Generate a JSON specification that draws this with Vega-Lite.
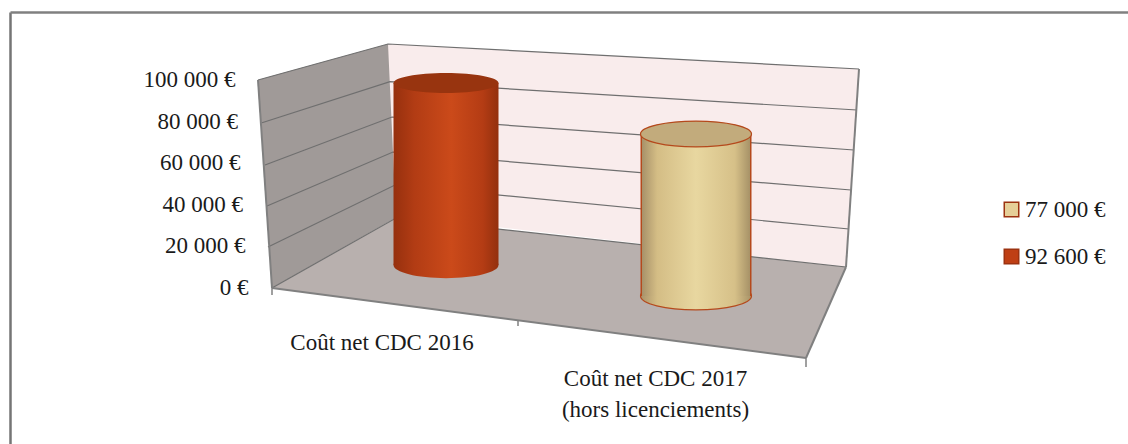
{
"$schema":"https://vega.github.io/schema/vega-lite/v6.json",
"width":1118,"height":432,
"padding":{"left":10,"top":12,"right":0,"bottom":0},
"autosize":"none",
"background":"#ffffff",
"view":{"stroke":null},
"config":{"font":"Liberation Serif"},
"datasets":{
"frame":[
{"part":"side","pos":0.248,"val":100000,"val2":100000},
{"part":"side","pos":0.304,"val":101884,"val2":-483},
{"part":"side","pos":0.768,"val":117391,"val2":31300},
{"part":"side","pos":0.8,"val":33333,"val2":33333},
{"part":"back","pos":0.768,"val":117391,"val2":35000},
{"part":"back","pos":2.6,"val":105652,"val2":9662},
{"part":"back","pos":2.652,"val":105314,"val2":105314},
{"part":"floor","pos":0.304,"val":-483,"val2":-483},
{"part":"floor","pos":0.8,"val":33333,"val2":-8357},
{"part":"floor","pos":2.44,"val":11739,"val2":-34300},
{"part":"floor","pos":2.6,"val":9662,"val2":9662}
],
"grid":[
{"level":100000,"pos":0.248,"val":100000},{"level":100000,"pos":0.768,"val":117391},{"level":100000,"pos":2.652,"val":105314},
{"level":80000,"pos":0.264,"val":79372},{"level":80000,"pos":0.776,"val":99178},{"level":80000,"pos":2.644,"val":85507},
{"level":60000,"pos":0.276,"val":58937},{"level":60000,"pos":0.784,"val":82125},{"level":60000,"pos":2.632,"val":66183},
{"level":40000,"pos":0.284,"val":39130},{"level":40000,"pos":0.788,"val":65217},{"level":40000,"pos":2.62,"val":46860},
{"level":20000,"pos":0.288,"val":19324},{"level":20000,"pos":0.796,"val":49275},{"level":20000,"pos":2.612,"val":28019},
{"level":0,"pos":0.304,"val":-483},{"level":0,"pos":0.8,"val":33333},{"level":0,"pos":2.6,"val":9662}
],
"edges":[
{"edge":"left","pos":0.248,"val":100000},{"edge":"left","pos":0.304,"val":-483},
{"edge":"front","pos":0.304,"val":-483},{"edge":"front","pos":2.44,"val":-34300},
{"edge":"floorRight","pos":2.44,"val":-34300},{"edge":"floorRight","pos":2.6,"val":9662},
{"edge":"backRight","pos":2.6,"val":9662},{"edge":"backRight","pos":2.652,"val":105314}
],
"ticks":[
{"pos":0.304,"val":-483,"val2":-3865},
{"pos":1.288,"val":-15942,"val2":-18840},
{"pos":2.44,"val":-34300,"val2":-38647}
],
"cyl":[
{"serie":"92 600 €","value":92600,"pos":1,"val":98550,"val2":10628},
{"serie":"77 000 €","value":77000,"pos":2,"val":73913,"val2":-4348}
],
"labels":[
{"label":"Coût net CDC 2016","pos":0.744,"val":-21739},
{"label":"Coût net CDC 2017\n(hors licenciements)","pos":1.838,"val":-39130}
]
},
"encoding":{
"x":{"field":"pos","type":"quantitative","title":null,
 "scale":{"domain":[-0.744,3.728],"nice":false,"zero":false,"padding":0},
 "axis":{"orient":"top","values":[-0.744],"labels":false,"ticks":false,"title":null,"domain":true,"domainColor":"#808080","domainWidth":2.5,"grid":true,"gridColor":"#757575","gridWidth":2.5,"gridOpacity":1}},
"y":{"field":"val","type":"quantitative","title":null,
 "scale":{"domain":[-75845,132850],"nice":false,"zero":false},
 "axis":{"values":[0,20000,40000,60000,80000,100000],"offset":-225,"domain":false,"ticks":false,"grid":false,"title":null,"labelFont":"Liberation Serif","labelFontSize":23,"labelColor":"#1a1a1a",
  "labelExpr":"replace(format(datum.value,','),',',' ')+' €'",
  "labelPadding":{"condition":[{"test":"datum.value===0","value":-13},{"test":"datum.value===20000","value":-10},{"test":"datum.value===40000","value":-7.5},{"test":"datum.value===60000","value":-5},{"test":"datum.value===80000","value":-2.5}],"value":0}}}
},
"layer":[
{"data":{"name":"frame"},"transform":[{"filter":"datum.part==='back'"}],"mark":{"type":"area","color":"#f9ecec"},"encoding":{"y2":{"field":"val2"}}},
{"data":{"name":"frame"},"transform":[{"filter":"datum.part==='side'"}],"mark":{"type":"area","color":"#a09a98"},"encoding":{"y2":{"field":"val2"}}},
{"data":{"name":"frame"},"transform":[{"filter":"datum.part==='floor'"}],"mark":{"type":"area","color":"#b8b0ae"},"encoding":{"y2":{"field":"val2"}}},
{"data":{"name":"grid"},"mark":{"type":"line","color":"#6f6f6f","strokeWidth":1.2},"encoding":{"detail":{"field":"level"}}},
{"data":{"name":"edges"},"mark":{"type":"line","color":"#808080","strokeWidth":2},"encoding":{"detail":{"field":"edge"}}},
{"data":{"name":"ticks"},"mark":{"type":"rule","color":"#808080","strokeWidth":1.5},"encoding":{"y2":{"field":"val2"}}},

{"data":{"name":"cyl"},"transform":[{"filter":"datum.pos===1"}],
 "mark":{"type":"point","filled":true,"opacity":1,"size":11025,"shape":"M-1,0 A1,0.25 0 1,1 1,0 A1,0.25 0 1,1 -1,0 Z",
  "fill":{"gradient":"linear","x1":0,"x2":1,"y1":0,"y2":0,"stops":[{"offset":0,"color":"#96300e"},{"offset":0.2,"color":"#b23c14"},{"offset":0.55,"color":"#cb4a1a"},{"offset":0.85,"color":"#b43c14"},{"offset":1,"color":"#93300e"}]}},
 "encoding":{"y":{"field":"val2","type":"quantitative"}}},
{"data":{"name":"cyl"},"transform":[{"filter":"datum.pos===1"}],
 "mark":{"type":"bar","width":105,
  "fill":{"gradient":"linear","x1":0,"x2":1,"y1":0,"y2":0,"stops":[{"offset":0,"color":"#96300e"},{"offset":0.2,"color":"#b23c14"},{"offset":0.55,"color":"#cb4a1a"},{"offset":0.85,"color":"#b43c14"},{"offset":1,"color":"#93300e"}]}},
 "encoding":{"y2":{"field":"val2"}}},
{"data":{"name":"cyl"},"transform":[{"filter":"datum.pos===1"}],
 "mark":{"type":"point","filled":true,"opacity":1,"size":11025,"shape":"M-1,0 A1,0.19 0 1,1 1,0 A1,0.19 0 1,1 -1,0 Z","color":"#98340f"}},

{"data":{"name":"cyl"},"transform":[{"filter":"datum.pos===2"}],
 "mark":{"type":"point","filled":true,"opacity":1,"size":12321,"shape":"M-1,0 A1,0.25 0 1,1 1,0 A1,0.25 0 1,1 -1,0 Z","stroke":"#b5491c","strokeWidth":1.2,
  "fill":{"gradient":"linear","x1":0,"x2":1,"y1":0,"y2":0,"stops":[{"offset":0,"color":"#a8926a"},{"offset":0.15,"color":"#d4bd85"},{"offset":0.5,"color":"#e8d7a0"},{"offset":0.85,"color":"#d6c088"},{"offset":1,"color":"#a89368"}]}},
 "encoding":{"y":{"field":"val2","type":"quantitative"}}},
{"data":{"name":"cyl"},"transform":[{"filter":"datum.pos===2"}],
 "mark":{"type":"bar","width":111,
  "fill":{"gradient":"linear","x1":0,"x2":1,"y1":0,"y2":0,"stops":[{"offset":0,"color":"#b5491c"},{"offset":0.012,"color":"#b5491c"},{"offset":0.016,"color":"#a8926a"},{"offset":0.15,"color":"#d4bd85"},{"offset":0.5,"color":"#e8d7a0"},{"offset":0.85,"color":"#d6c088"},{"offset":0.984,"color":"#a89368"},{"offset":0.988,"color":"#b5491c"},{"offset":1,"color":"#b5491c"}]}},
 "encoding":{"y2":{"field":"val2"}}},
{"data":{"name":"cyl"},"transform":[{"filter":"datum.pos===2"}],
 "mark":{"type":"point","filled":true,"opacity":1,"size":12321,"shape":"M-1,0 A1,0.232 0 1,1 1,0 A1,0.232 0 1,1 -1,0 Z","color":"#c2ab7c","stroke":"#b5491c","strokeWidth":1.2}},

{"data":{"name":"cyl"},
 "mark":{"type":"point","filled":true,"size":0,"opacity":1},
 "encoding":{"color":{"field":"serie","type":"nominal",
  "scale":{"domain":["77 000 €","92 600 €"],"range":["#e6cf98","#bf3f14"]},
  "legend":{"orient":"none","legendX":990,"legendY":186,"title":null,"symbolType":"square","symbolSize":210,"symbolStrokeColor":"#9c3210","symbolStrokeWidth":1.5,"symbolOpacity":1,"labelFont":"Liberation Serif","labelFontSize":23,"labelColor":"#1a1a1a","labelOffset":2,"rowPadding":23}}}},

{"data":{"name":"labels"},
 "mark":{"type":"text","align":"center","baseline":"top","lineBreak":"\n","lineHeight":31,"font":"Liberation Serif","fontSize":23,"color":"#1a1a1a"},
 "encoding":{"text":{"field":"label"}}}
]
}
